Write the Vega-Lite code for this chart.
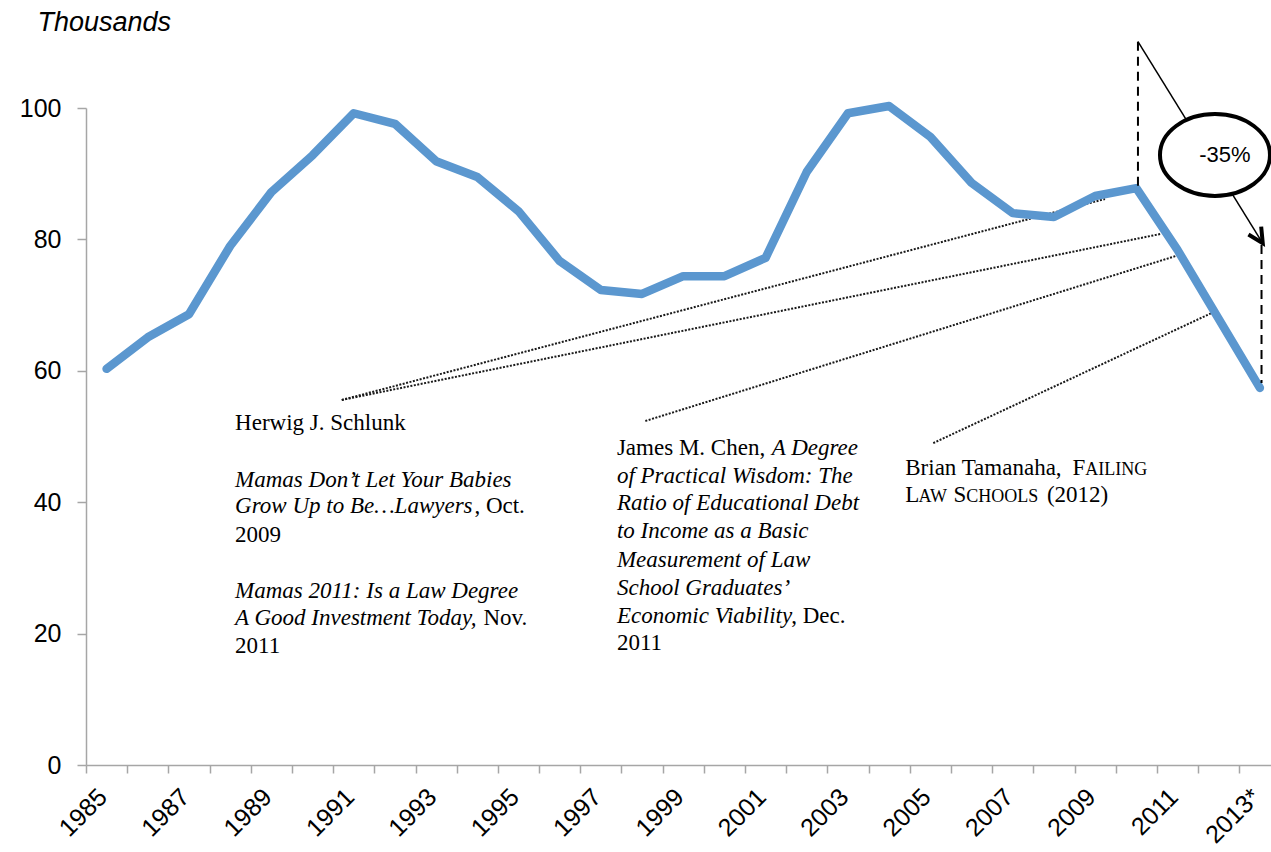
{
  "$schema": "https://vega.github.io/schema/vega-lite/v6.json",
  "width": 1185,
  "height": 657,
  "autosize": {"type": "none"},
  "padding": {"left": 86, "top": 108, "right": 0, "bottom": 87},
  "background": "white",
  "config": {"view": {"stroke": null}},
  "datasets": {
    "series": [
      {"year": 1985, "value": 60.3}, {"year": 1986, "value": 65.1}, {"year": 1987, "value": 68.6},
      {"year": 1988, "value": 79.0}, {"year": 1989, "value": 87.2}, {"year": 1990, "value": 92.8},
      {"year": 1991, "value": 99.2}, {"year": 1992, "value": 97.6}, {"year": 1993, "value": 91.9},
      {"year": 1994, "value": 89.5}, {"year": 1995, "value": 84.3}, {"year": 1996, "value": 76.7},
      {"year": 1997, "value": 72.3}, {"year": 1998, "value": 71.7}, {"year": 1999, "value": 74.4},
      {"year": 2000, "value": 74.4}, {"year": 2001, "value": 77.2}, {"year": 2002, "value": 90.3},
      {"year": 2003, "value": 99.2}, {"year": 2004, "value": 100.3}, {"year": 2005, "value": 95.6},
      {"year": 2006, "value": 88.6}, {"year": 2007, "value": 84.0}, {"year": 2008, "value": 83.4},
      {"year": 2009, "value": 86.6}, {"year": 2010, "value": 87.8}, {"year": 2011, "value": 78.4},
      {"year": 2012, "value": 67.9}, {"year": 2013, "value": 57.4}
    ],
    "leaders": [
      {"year": 1990.71, "value": 55.56, "year2": 2009.24, "value2": 86.15},
      {"year": 1990.71, "value": 55.56, "year2": 2010.58, "value2": 80.82},
      {"year": 1998.08, "value": 52.36, "year2": 2011.04, "value2": 77.63},
      {"year": 2005.07, "value": 49.0, "year2": 2011.83, "value2": 68.8}
    ],
    "dashes": [
      {"year": 2010.04, "value": 110.09, "value2": 87.8},
      {"year": 2013.04, "value": 79.15, "value2": 58.14}
    ],
    "arrow": [
      {"year": 2010.04, "value": 110.09, "year2": 2013.07, "value2": 79.41}
    ],
    "arrowhead": [{"year": 2013.07, "value": 79.41}],
    "callout": [{"year": 2011.91, "value": 92.85}],
    "calloutText": [{"year": 2012.15, "value": 92.9, "label": "-35%"}],
    "notesRoman": [
      {"year": 1988.12, "value": 50.99, "label": "Herwig J. Schlunk"},
      {"year": 1993.93, "value": 38.31, "label": ", Oct."},
      {"year": 1988.12, "value": 33.99, "label": "2009"},
      {"year": 1994.15, "value": 21.31, "label": "Nov."},
      {"year": 1988.12, "value": 17.0, "label": "2011"},
      {"year": 1997.39, "value": 47.18, "label": "James M. Chen,"},
      {"year": 2001.62, "value": 21.57, "label": ", Dec."},
      {"year": 1997.39, "value": 17.5, "label": "2011"},
      {"year": 2004.39, "value": 44.14, "label": "Brian Tamanaha,"},
      {"year": 2008.45, "value": 44.14, "label": "F"},
      {"year": 2004.39, "value": 40.08, "label": "L"},
      {"year": 2005.56, "value": 40.08, "label": "S"},
      {"year": 2007.83, "value": 40.08, "label": "(2012)"}
    ],
    "notesItalic": [
      {"year": 1988.12, "value": 42.36, "label": "Mamas Don’t Let Your Babies"},
      {"year": 1988.12, "value": 38.31, "label": "Grow Up to Be…Lawyers"},
      {"year": 1988.12, "value": 25.37, "label": "Mamas 2011: Is a Law Degree"},
      {"year": 1988.12, "value": 21.31, "label": "A Good Investment Today,"},
      {"year": 2001.15, "value": 47.18, "label": "A Degree"},
      {"year": 1997.39, "value": 42.88, "label": "of Practical Wisdom: The"},
      {"year": 1997.39, "value": 38.81, "label": "Ratio of Educational Debt"},
      {"year": 1997.39, "value": 34.5, "label": "to Income as a Basic"},
      {"year": 1997.39, "value": 30.18, "label": "Measurement of Law"},
      {"year": 1997.39, "value": 25.87, "label": "School Graduates’"},
      {"year": 1997.39, "value": 21.57, "label": "Economic Viability"}
    ],
    "notesSmallCaps": [
      {"year": 2008.76, "value": 44.14, "label": "AILING"},
      {"year": 2004.71, "value": 40.08, "label": "AW"},
      {"year": 2005.87, "value": 40.08, "label": "CHOOLS"}
    ]
  },
  "encoding": {
    "x": {
      "field": "year",
      "type": "quantitative",
      "scale": {"domain": [1984.5, 2013.27], "nice": false, "zero": false},
      "axis": {
        "title": null,
        "grid": false,
        "values": [1984.5, 1985.5, 1986.5, 1987.5, 1988.5, 1989.5, 1990.5, 1991.5, 1992.5, 1993.5, 1994.5, 1995.5, 1996.5, 1997.5, 1998.5, 1999.5, 2000.5, 2001.5, 2002.5, 2003.5, 2004.5, 2005.5, 2006.5, 2007.5, 2008.5, 2009.5, 2010.5, 2011.5, 2012.5],
        "labelExpr": "(datum.value + 0.5) % 2 == 1 ? ((datum.value + 0.5) == 2013 ? '2013*' : '' + (datum.value + 0.5)) : ''",
        "labelAngle": -45,
        "labelAlign": "right",
        "labelBaseline": "top",
        "labelOffset": 8,
        "labelPadding": 11,
        "labelOverlap": false,
        "labelBound": false,
        "labelFlush": false,
        "labelFont": "Liberation Sans",
        "labelFontSize": 25,
        "labelColor": "#000000",
        "tickSize": 8,
        "tickWidth": 1.5,
        "tickColor": "#a6a6a6",
        "domainColor": "#a6a6a6",
        "domainWidth": 1.5
      }
    },
    "y": {
      "field": "value",
      "type": "quantitative",
      "scale": {"domain": [0, 100], "nice": false, "zero": true},
      "axis": {
        "title": "Thousands",
        "titleAngle": 0,
        "titleX": -49,
        "titleY": -78,
        "titleAlign": "left",
        "titleBaseline": "alphabetic",
        "titleFont": "Liberation Sans",
        "titleFontStyle": "italic",
        "titleFontWeight": "normal",
        "titleFontSize": 27,
        "titleColor": "#000000",
        "grid": false,
        "values": [0, 20, 40, 60, 80, 100],
        "labelFont": "Liberation Sans",
        "labelFontSize": 25,
        "labelColor": "#000000",
        "labelPadding": 16,
        "tickSize": 9,
        "tickWidth": 1.5,
        "tickColor": "#a6a6a6",
        "domainColor": "#a6a6a6",
        "domainWidth": 1.5
      }
    }
  },
  "layer": [
    {
      "data": {"name": "leaders"},
      "mark": {"type": "rule", "color": "#1a1a1a", "strokeWidth": 2, "strokeDash": [2, 1.5]},
      "encoding": {"x2": {"field": "year2"}, "y2": {"field": "value2"}}
    },
    {
      "data": {"name": "series"},
      "mark": {"type": "line", "color": "#5b97cf", "strokeWidth": 8.5, "strokeCap": "round", "strokeJoin": "round"}
    },
    {
      "data": {"name": "dashes"},
      "mark": {"type": "rule", "color": "#000000", "strokeWidth": 2, "strokeDash": [9, 6]},
      "encoding": {"y2": {"field": "value2"}}
    },
    {
      "data": {"name": "arrow"},
      "mark": {"type": "rule", "color": "#000000", "strokeWidth": 1.5},
      "encoding": {"x2": {"field": "year2"}, "y2": {"field": "value2"}}
    },
    {
      "data": {"name": "arrowhead"},
      "mark": {"type": "point", "shape": "M-0.5,-1L0,0L0.5,-1", "filled": false, "stroke": "#000000", "strokeWidth": 4, "size": 900, "angle": -32, "opacity": 1, "strokeJoin": "miter"}
    },
    {
      "data": {"name": "callout"},
      "mark": {"type": "point", "shape": "M-1,0C-1,-0.4115,-0.5523,-0.745,0,-0.745C0.5523,-0.745,1,-0.4115,1,0C1,0.4115,0.5523,0.745,0,0.745C-0.5523,0.745,-1,0.4115,-1,0Z", "filled": true, "fill": "#ffffff", "stroke": "#000000", "strokeWidth": 4, "size": 12100, "opacity": 1, "fillOpacity": 1, "strokeOpacity": 1}
    },
    {
      "data": {"name": "calloutText"},
      "mark": {"type": "text", "font": "Liberation Sans", "fontSize": 22, "align": "center", "baseline": "middle", "color": "#000000"},
      "encoding": {"text": {"field": "label"}}
    },
    {
      "data": {"name": "notesRoman"},
      "mark": {"type": "text", "font": "Liberation Serif", "fontSize": 23, "align": "left", "baseline": "alphabetic", "color": "#000000"},
      "encoding": {"text": {"field": "label"}}
    },
    {
      "data": {"name": "notesItalic"},
      "mark": {"type": "text", "font": "Liberation Serif", "fontStyle": "italic", "fontSize": 23, "align": "left", "baseline": "alphabetic", "color": "#000000"},
      "encoding": {"text": {"field": "label"}}
    },
    {
      "data": {"name": "notesSmallCaps"},
      "mark": {"type": "text", "font": "Liberation Serif", "fontSize": 18, "align": "left", "baseline": "alphabetic", "color": "#000000"},
      "encoding": {"text": {"field": "label"}}
    }
  ]
}
